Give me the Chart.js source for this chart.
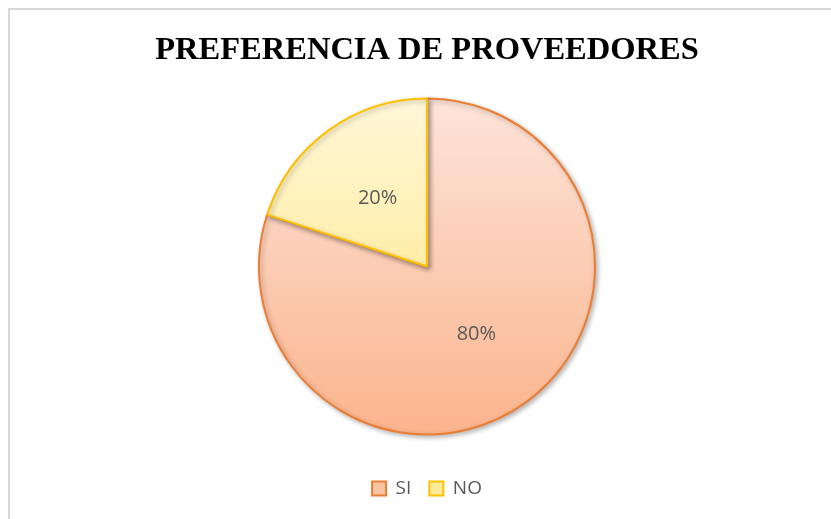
<!DOCTYPE html>
<html lang="es">
<head>
    <meta charset="UTF-8">
    <title>Preferencia de proveedores</title>
    <script src="https://cdn.jsdelivr.net/npm/chart.js"></script>
    <style>
        body {
            margin: 0;
            background-color: #ffffff;
            overflow: hidden;
        }
        .frame {
            position: absolute;
            left: 8px;
            top: 8px;
            width: 900px;
            height: 600px;
            border: 2px solid #d9d9d9;
        }
        .wrap {
            position: absolute;
            left: 0;
            top: 0;
            width: 831px;
            height: 519px;
        }
    </style>
</head>
<body>
    <div class="frame"></div>
    <div class="wrap"><canvas id="pieChart"></canvas></div>
    <script>
        const categories = ['SI', 'NO'];
        const shares = [80, 20];
        const percentLabels = ['80%', '20%'];

        const gradientStops = [
            ['#fde4da', '#fbb48d'],
            ['#fff7d8', '#ffe67a']
        ];
        const edgeColors = ['#ed7d31', '#ffc000'];
        const legendFills = ['#f9c3a6', '#ffeb9a'];

        function sliceFill(context) {
            const chart = context.chart;
            const area = chart.chartArea;
            if (!area) return legendFills[context.dataIndex];
            const cy = (area.top + area.bottom) / 2;
            const g = chart.ctx.createLinearGradient(0, cy - 168, 0, cy + 168);
            const stops = gradientStops[context.dataIndex];
            g.addColorStop(0, stops[0]);
            g.addColorStop(1, stops[1]);
            return g;
        }

        // drop shadow under the pie
        const shadowPlugin = {
            id: 'pieShadow',
            beforeDatasetDraw(chart) {
                const ctx = chart.ctx;
                ctx.save();
                ctx.shadowColor = 'rgba(0, 0, 0, 0.28)';
                ctx.shadowBlur = 5;
                ctx.shadowOffsetX = 2;
                ctx.shadowOffsetY = 2;
            },
            afterDatasetDraw(chart) {
                chart.ctx.restore();
            }
        };

        // percentage labels inside the slices
        const valueLabels = {
            id: 'valueLabels',
            afterDatasetsDraw(chart) {
                const ctx = chart.ctx;
                const meta = chart.getDatasetMeta(0);
                ctx.save();
                ctx.font = '20px "Open Sans"';
                ctx.fillStyle = '#595959';
                ctx.textAlign = 'center';
                ctx.textBaseline = 'middle';
                meta.data.forEach((arc, i) => {
                    const p = arc.tooltipPosition();
                    ctx.fillText(percentLabels[i], p.x, p.y);
                });
                ctx.restore();
            }
        };

        const ctx = document.getElementById('pieChart').getContext('2d');
        new Chart(ctx, {
            type: 'pie',
            data: {
                labels: categories,
                datasets: [{
                    data: shares,
                    backgroundColor: sliceFill,
                    borderColor: edgeColors,
                    borderWidth: 2,
                    radius: 168
                }]
            },
            options: {
                responsive: true,
                maintainAspectRatio: false,
                animation: false,
                rotation: 0,
                layout: {
                    padding: { left: 23, right: 0, top: 0, bottom: 11 }
                },
                plugins: {
                    title: {
                        display: true,
                        text: 'PREFERENCIA DE PROVEEDORES',
                        color: '#000000',
                        font: { family: '"Liberation Serif"', size: 32.5, weight: 'bold' },
                        padding: { top: 31, bottom: 2 }
                    },
                    legend: {
                        display: true,
                        position: 'bottom',
                        labels: {
                            color: '#595959',
                            font: { family: '"Open Sans"', size: 19 },
                            boxWidth: 14,
                            boxHeight: 14,
                            padding: 18,
                            generateLabels(chart) {
                                return categories.map((c, i) => ({
                                    text: c,
                                    fillStyle: legendFills[i],
                                    strokeStyle: edgeColors[i],
                                    lineWidth: 2,
                                    fontColor: '#595959',
                                    index: i
                                }));
                            }
                        }
                    },
                    tooltip: { enabled: false }
                }
            },
            plugins: [shadowPlugin, valueLabels]
        });
    </script>
</body>
</html>
